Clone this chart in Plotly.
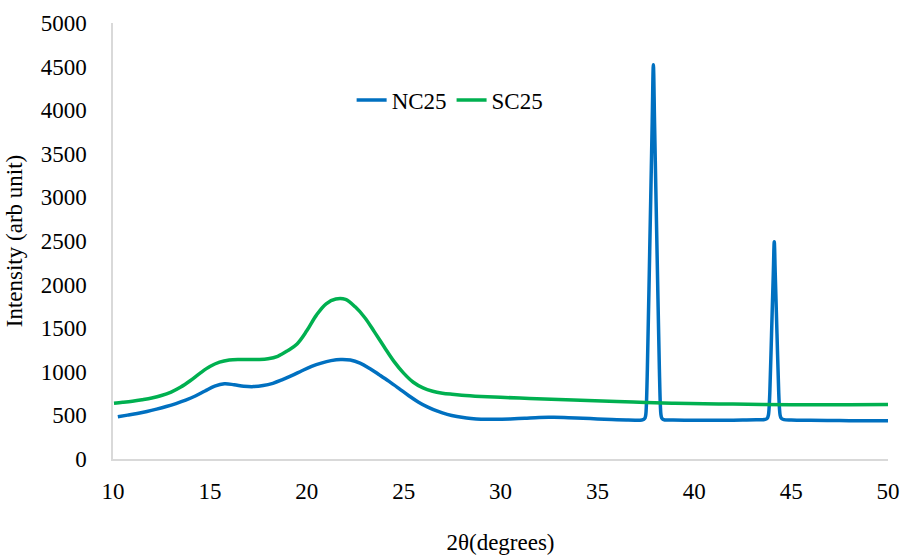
import plotly.graph_objects as go

# NC25 (blue)
nc_x = [10.25, 10.75, 11.25, 11.75, 12.25, 12.75, 13.25, 13.75, 14.25, 14.75, 15.25, 15.75, 16.25, 16.75,
        17.25, 17.75, 18.25, 18.75, 19.25, 19.75, 20.25, 20.75, 21.25, 21.75, 22.25, 22.75, 23.25, 23.75,
        24.25, 24.75, 25.25, 25.75, 26.25, 26.75, 27.25, 27.75, 28.25, 28.75, 29.25, 29.75, 30.5, 31.25,
        32.0, 32.75, 33.5, 34.25, 35.0, 35.75, 36.5, 37.0, 37.3, 37.4, 37.46, 37.5, 37.53, 37.58, 37.7,
        37.83, 37.89, 37.95, 38.08, 38.2, 38.25, 38.28, 38.32, 38.38, 38.48, 38.9, 39.5, 40.25,
        41.0, 41.75, 42.5, 43.2, 43.63, 43.73, 43.79, 43.83, 43.86, 43.9, 43.99, 44.08, 44.13, 44.18,
        44.27, 44.36, 44.40, 44.43, 44.47, 44.53, 44.63, 45.0, 46.0, 47.0, 48.0, 49.0, 50.0]
nc_y = [485, 503, 522, 545, 572, 602, 636, 675, 722, 780, 835, 862, 852, 835,
        830, 842, 868, 910, 958, 1012, 1062, 1100, 1128, 1142, 1135, 1100, 1038, 965,
        890, 810, 728, 655, 595, 548, 512, 487, 470, 460, 455, 455, 460, 468,
        477, 478, 474, 467, 460, 453, 447, 445, 448, 455, 470, 510, 620, 1030, 2375,
        3870, 4520, 3870, 2375, 1030, 620, 510, 470, 455, 448, 446, 445, 444,
        444, 445, 447, 450, 452, 460, 475, 505, 575, 760, 1440, 2125, 2490, 2125,
        1440, 760, 575, 505, 475, 460, 452, 447, 443, 441, 440, 440, 440]

# SC25 (green)
sc_x = [10.05, 10.5, 11.0, 11.5, 12.0, 12.5, 13.0, 13.5, 14.0, 14.5, 15.0, 15.5, 16.0, 16.5, 17.0,
        17.5, 18.0, 18.5, 19.0, 19.5, 20.0, 20.5, 21.0, 21.5, 22.0, 22.5, 23.0, 23.5, 24.0, 24.5,
        25.0, 25.5, 26.0, 26.5, 27.0, 27.5, 28.0, 29.0, 30.0, 31.5, 33.0, 34.5, 36.0, 37.5, 39.0,
        40.5, 42.0, 43.5, 45.0, 46.5, 48.0, 50.0]
sc_y = [640, 650, 663, 680, 700, 728, 768, 825, 900, 985, 1060, 1110, 1135, 1142, 1142,
        1142, 1150, 1178, 1240, 1320, 1470, 1650, 1780, 1835, 1830, 1745, 1620, 1455, 1285, 1120,
        985, 880, 815, 777, 755, 742, 732, 718, 707, 695, 683, 671, 660, 648, 640,
        634, 630, 626, 623, 621, 622, 625]

x_ticks = [10, 15, 20, 25, 30, 35, 40, 45, 50]
y_ticks = [0, 500, 1000, 1500, 2000, 2500, 3000, 3500, 4000, 4500, 5000]

FONT = "Liberation Serif, Times New Roman, serif"

fig = go.Figure()
fig.add_trace(go.Scatter(x=nc_x, y=nc_y, mode="lines", name="NC25",
                         line=dict(color="#0070C0", width=3.5, shape="spline", smoothing=1.0)))
fig.add_trace(go.Scatter(x=sc_x, y=sc_y, mode="lines", name="SC25",
                         line=dict(color="#00B050", width=3.5, shape="spline", smoothing=1.0)))

fig.update_layout(
    width=901, height=555,
    margin=dict(l=113, r=13, t=23, b=96),
    paper_bgcolor="white", plot_bgcolor="white",
    font=dict(family=FONT, size=23, color="black"),
    showlegend=True,
    legend=dict(orientation="h", x=0.435, xanchor="center", y=0.823, yanchor="middle",
                font=dict(size=23), bgcolor="rgba(0,0,0,0)"),
    xaxis=dict(range=[10, 50], tickvals=x_ticks, showgrid=False, zeroline=False,
               showline=True, linecolor="#D9D9D9", linewidth=1.5, ticks="",
               ticklabelstandoff=11, automargin=False,
               title=dict(text="2θ(degrees)", standoff=50, font=dict(size=23))),
    yaxis=dict(range=[0, 5000], tickvals=y_ticks, showgrid=False, zeroline=False,
               showline=True, linecolor="#D9D9D9", linewidth=1.5, ticks="",
               ticklabelstandoff=20, automargin=False,
               title=dict(text="Intensity (arb unit)", standoff=12, font=dict(size=23))),
)

fig.write_html("out.html")
